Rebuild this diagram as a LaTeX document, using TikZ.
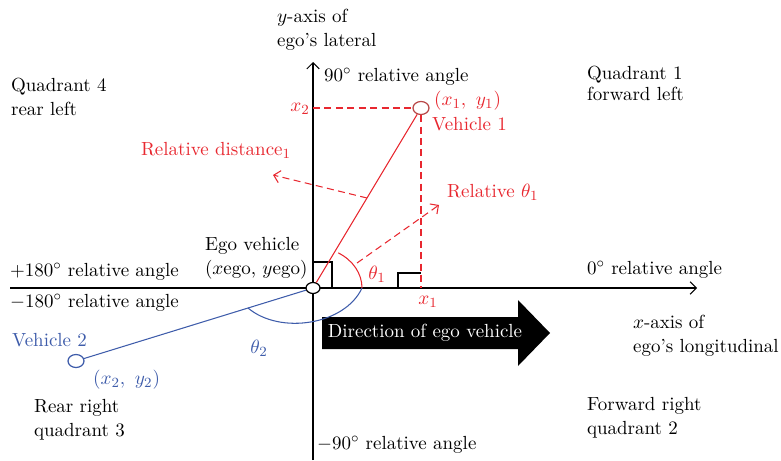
\documentclass[tikz,border=0pt]{standalone}
\usetikzlibrary{calc,shapes.geometric,arrows.meta}
\definecolor{vRed}{RGB}{232,40,48}
\definecolor{vBlue}{RGB}{62,92,170}
\definecolor{vRing}{RGB}{185,72,72}
\begin{document}
\begin{tikzpicture}[
    x=0.02cm, y=-0.02cm,
    every node/.style={font=\fontsize{10.8}{13.5}\selectfont, inner sep=1pt},
    txtL/.style={anchor=west, align=left},
    redTxt/.style={text=vRed},
    blueTxt/.style={text=vBlue},
    vehDot/.style={ellipse, draw, fill=white, line width=0.7pt, minimum width=16*0.02cm, minimum height=13*0.02cm, inner sep=0pt},
    axArr/.style={-{Straight Barb[length=3.5pt,width=7pt]}, line width=0.6pt},
    dashArr/.style={-{Straight Barb[length=3.5pt,width=7pt]}, vRed, dashed, dash pattern=on 4pt off 2.5pt, line width=0.6pt},
]
\useasboundingbox (0,0) rectangle (781,460);
% axes
\coordinate (xL) at (10,288);
\coordinate (xR) at (697,288);
\coordinate (yB) at (313,460);
\coordinate (yT) at (313,62);
\draw[axArr] (xL) -- (xR);
\draw[axArr] (yB) -- (yT);
% direction arrow
\fill (322,317) -- (518,317) -- (518,300) -- (550,333) -- (518,366) -- (518,349) -- (322,349) -- cycle;
\node[text=white] (dirTxt) at (425,333) {Direction of ego vehicle};
% right angle marks
\draw[line width=0.6pt] (313,262) -- (332,262) -- (332,288);
\draw[line width=0.6pt] (398,288) -- (398,273) -- (421,273);
% vehicles
\node[vehDot, draw=vRing] (veh1) at (421,108) {};
\node[vehDot, draw=vBlue] (veh2) at (76,361) {};
\coordinate (x2ax) at (313,108);
\coordinate (x1ax) at (421,288);
\draw[vRed, dashed, dash pattern=on 4pt off 2.5pt, line width=0.6pt] (x2ax) -- (veh1);
\draw[vRed, dashed, dash pattern=on 4pt off 2.5pt, line width=0.6pt] (veh1) -- (x1ax);
\node[vehDot, minimum width=14*0.02cm, minimum height=11*0.02cm] (ego) at (313,288) {};
\draw[vRed, line width=0.6pt] (ego) -- (veh1);
\draw[vBlue, line width=0.6pt] (ego) -- (veh2);
% angles
\draw[vRed, line width=0.6pt] ($(ego.center)+(49,0)$) arc[x radius=49, y radius=41, start angle=0, end angle=-59];
\draw[vBlue, line width=0.6pt] ($(ego.center)+(49,0)$) .. controls ($(ego.center)+(32,37)$) and ($(ego.center)+(-33,47)$) .. ($(ego.center)+(-65,20)$);
\coordinate (rdTip) at (273,175);
\coordinate (thMid) at (357,263);
\coordinate (rtTip) at (439,205);
\draw[dashArr] ($(ego)!0.5!(veh1)$) -- (rdTip);
\draw[dashArr] (thMid) -- (rtTip);
% labels
\node[txtL] (yaxLbl) at (275,30) {$y$-axis of\\ego's lateral};
\node[txtL] (pos90) at (322,77) {90$^\circ$ relative angle};
\node[txtL] (quadFour) at (9,97) {Quadrant 4\\rear left};
\node[txtL, font=\fontsize{10.8}{12}\selectfont] (quadOne) at (585,83) {Quadrant 1\\forward left};
\node[redTxt] (x2Lbl) at (300,109) {$x_2$};
\node[txtL, redTxt] (v1Pos) at (432,101) {$(x_1,\ y_1)$};
\node[txtL, redTxt] (v1Name) at (430,124) {Vehicle 1};
\node[redTxt] (relDist) at (216,150) {Relative distance$_1$};
\node[txtL, redTxt] (relTh) at (445,192) {Relative $\theta_1$};
\node[txtL] (egoLbl) at (203,258) {Ego vehicle\\($x$ego, $y$ego)};
\node[txtL] (pos180) at (8,272) {+180$^\circ$ relative angle};
\node[txtL] (neg180) at (8,303) {$-$180$^\circ$ relative angle};
\node[txtL] (zeroLbl) at (585,270) {0$^\circ$ relative angle};
\node[redTxt] (th1Lbl) at (377,274) {$\theta_1$};
\node[redTxt] (x1Lbl) at (428,302) {$x_1$};
\node[blueTxt] (th2Lbl) at (259,348) {$\theta_2$};
\node[txtL] (xaxLbl) at (631,336) {$x$-axis of\\ego's longitudinal};
\node[txtL, blueTxt] (v2Name) at (10,340) {Vehicle 2};
\node[txtL, blueTxt] (v2Pos) at (91,380) {$(x_2,\ y_2)$};
\node[txtL] (quadThree) at (32,420) {Rear right\\quadrant 3};
\node[txtL] (quadTwo) at (585,418) {Forward right\\quadrant 2};
\node[txtL] (neg90) at (315,445) {$-$90$^\circ$ relative angle};
\end{tikzpicture}
\end{document}
